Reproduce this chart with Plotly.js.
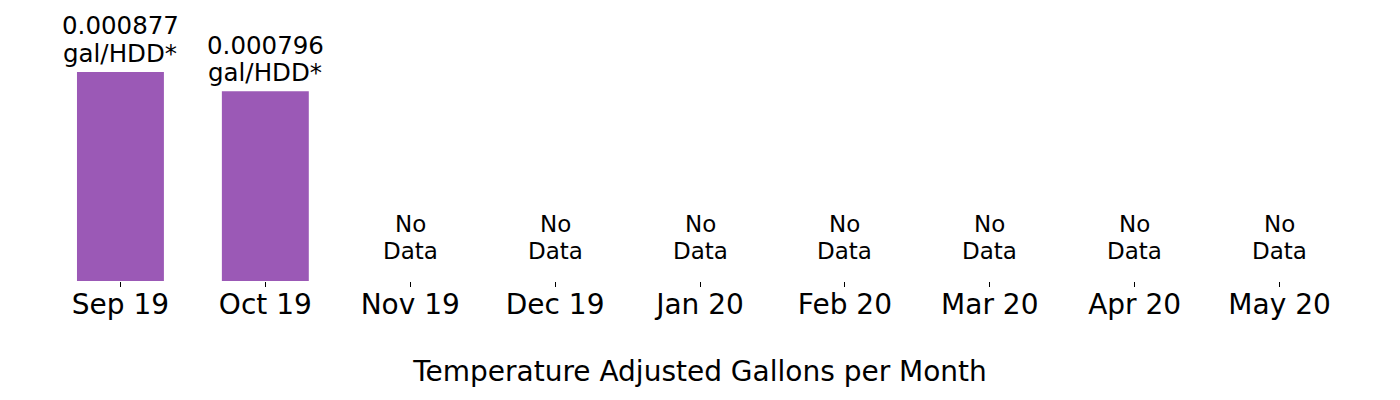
<!DOCTYPE html>
<html>
<head>
<meta charset="utf-8">
<script src="https://cdn.plot.ly/plotly-3.0.1.min.js"></script>
<style>
  html, body { margin: 0; padding: 0; background: #fff; }
  #chart { width: 1400px; height: 400px; }
</style>
</head>
<body>
<div id="chart"></div>
<script>
// -----------------------------
// Data
// -----------------------------
const months = ["Sep 19", "Oct 19", "Nov 19", "Dec 19", "Jan 20", "Feb 20", "Mar 20", "Apr 20", "May 20"];
const gallonsPerHdd = [0.000877, 0.000796, null, null, null, null, null, null, null];
const barLabels = ["0.000877<br>gal/HDD*", "0.000796<br>gal/HDD*", "No<br>Data", "No<br>Data", "No<br>Data", "No<br>Data", "No<br>Data", "No<br>Data", "No<br>Data"];

const FONT = "DejaVu Sans, sans-serif";

// each label line is its own annotation so line spacing matches the tighter original
const annotations = [];
months.forEach((m, i) => {
  const hasValue = gallonsPerHdd[i] != null;
  const lines = barLabels[i].split("<br>");
  const base = hasValue ? 2 : 15;
  lines.forEach((txt, j) => {
    annotations.push({
      x: m,
      y: hasValue ? gallonsPerHdd[i] : 0,
      xref: "x",
      yref: "y",
      text: txt,
      showarrow: false,
      yanchor: "bottom",
      yshift: base + (lines.length - 1 - j) * 27.5,
      font: { family: FONT, size: hasValue ? 24.5 : 23, color: "#000" }
    });
  });
});

const trace = {
  type: "bar",
  x: months,
  y: gallonsPerHdd,
  width: 0.6,
  marker: { color: "#9b59b6" },
  hoverinfo: "skip"
};

const layout = {
  width: 1400,
  height: 400,
  paper_bgcolor: "#fff",
  plot_bgcolor: "#fff",
  margin: { l: 48, r: 48, t: 10, b: 119 },
  showlegend: false,
  bargap: 0.4,
  xaxis: {
    type: "category",
    range: [-0.5, 8.5],
    showline: false,
    showgrid: false,
    zeroline: false,
    ticks: "outside",
    ticklen: 5,
    tickwidth: 1,
    tickcolor: "#000",
    ticklabelstandoff: -7,
    tickfont: { family: FONT, size: 28, color: "#000" },
    title: {
      text: "Temperature Adjusted Gallons per Month",
      font: { family: FONT, size: 28, color: "#000" },
      standoff: 41
    }
  },
  yaxis: {
    range: [0, 0.001137],
    showline: false,
    showgrid: false,
    zeroline: false,
    showticklabels: false,
    ticks: ""
  },
  annotations: annotations
};

Plotly.newPlot("chart", [trace], layout, { displayModeBar: false, staticPlot: true });
</script>
</body>
</html>
